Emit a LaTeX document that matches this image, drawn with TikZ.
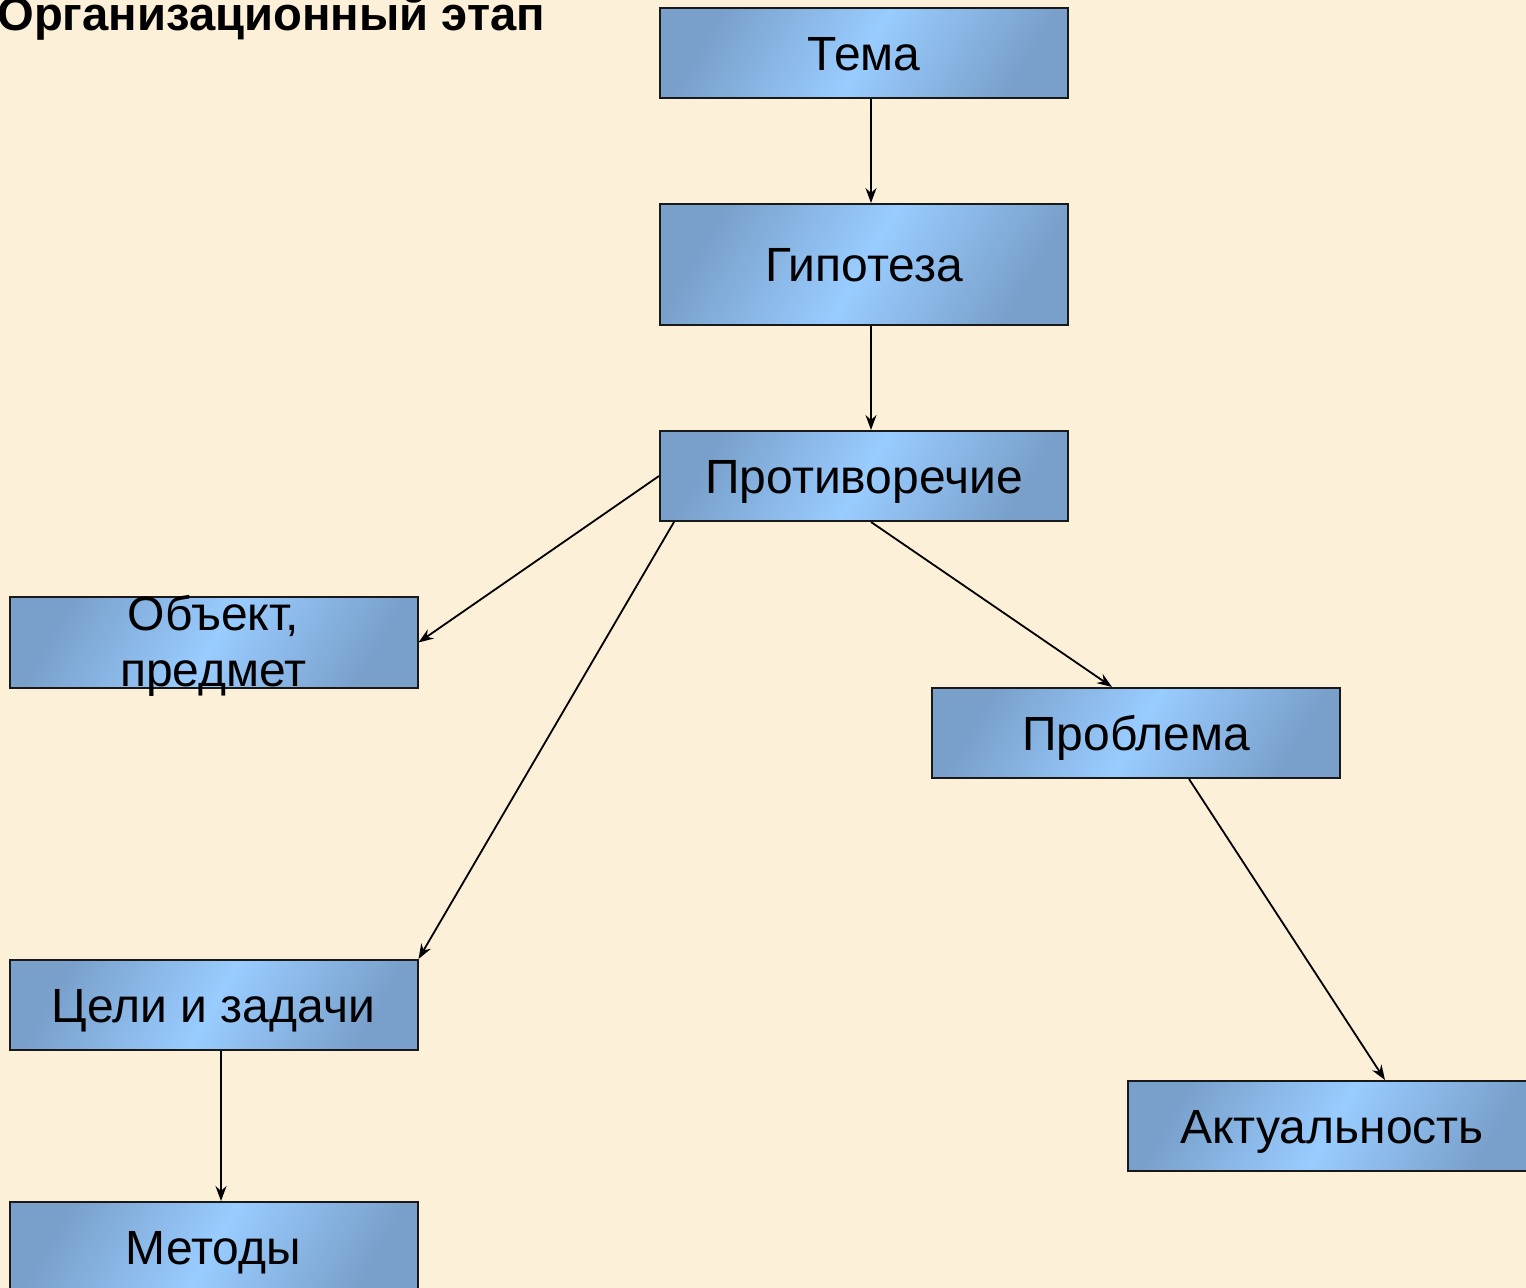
\documentclass[tikz,border=0pt]{standalone}
\usepackage{fontspec}
\setmainfont{Liberation Sans}
\usetikzlibrary{arrows.meta}
\definecolor{bgbeige}{RGB}{253,240,216}
\definecolor{boxdark}{RGB}{121,160,203}
\definecolor{boxlight}{RGB}{153,204,255}
\begin{document}
\begin{tikzpicture}[x=0.5pt,y=-0.5pt,
  etap/.style={draw=black!90,line width=1pt,left color=boxdark,right color=boxdark,middle color=boxlight,shading angle=60,minimum width=204pt,minimum height=45pt,inner sep=0pt,text height=17.2pt,text depth=0pt,font=\fontsize{24}{28}\selectfont},
  strelka/.style={-{Stealth[length=7.5pt,width=5.5pt,inset=2.5pt]},line width=0.9pt}]
\useasboundingbox (0,0) rectangle (1526,1288);
\clip (0,0) rectangle (1526,1288);
\fill[bgbeige] (0,0) rectangle (1526,1288);
\node[anchor=base west,inner sep=0pt,font=\bfseries\fontsize{23.6}{28}\selectfont] (title) at (-3,31) {Организационный этап};
\node[etap] (tema) at (864,53) {Тема};
\node[etap,minimum height=60.5pt] (gipoteza) at (864,264.5) {Гипотеза};
\node[etap] (protivorechie) at (864,476) {Противоречие};
\node[etap] (objekt) at (213.5,642.5) {};
\node[align=center,inner sep=0pt,font=\fontsize{24}{28}\selectfont] (objekttext) at ([yshift=-1.5pt]objekt.center) {Объект,\\предмет};
\node[etap] (problema) at (1136,733) {Проблема};
\node[etap] (celi) at (213.5,1005) {Цели и задачи};
\node[etap] (metody) at (213.5,1247) {Методы};
\node[etap] (aktualnost) at (1332,1126) {Актуальность};
\draw[strelka] ([xshift=3.5pt]tema.south) -- ([xshift=3.5pt]gipoteza.north);
\draw[strelka] ([xshift=3.5pt]gipoteza.south) -- ([xshift=3.5pt]protivorechie.north);
\draw[strelka] (protivorechie.west) -- (objekt.east);
\draw[strelka] ([xshift=7.5pt]protivorechie.south west) -- (celi.north east);
\draw[strelka] ([xshift=3.5pt]protivorechie.south) -- ([xshift=-12pt]problema.north);
\draw[strelka] ([xshift=26.5pt]problema.south) -- ([xshift=26.5pt]aktualnost.north);
\draw[strelka] ([xshift=3.75pt]celi.south) -- ([xshift=3.75pt]metody.north);
\end{tikzpicture}
\end{document}
